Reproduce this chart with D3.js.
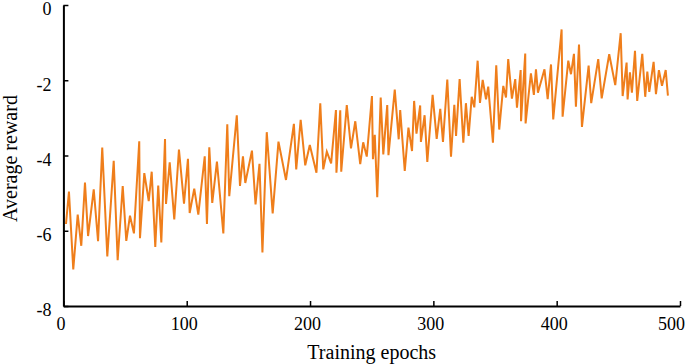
<!DOCTYPE html>
<html>
<head>
<meta charset="utf-8">
<script src="https://cdn.jsdelivr.net/npm/d3@7"></script>
<style>
  body { margin: 0; background: #fff; }
  svg { display: block; }
  text { font-family: "Liberation Serif", "Times New Roman", serif; fill: #000; }
</style>
</head>
<body>
<svg width="685" height="364"></svg>
<script>
'use strict';

// epochs of each vertex of the curve
const epochs = [
  2.1, 4.5, 8.0, 11.6, 14.5, 17.5, 20.0, 24.6, 28.1, 31.5,
  35.6, 40.8, 44.0, 48.1, 51.0, 54.0, 57.2, 61.5, 62.1, 65.6,
  69.2, 71.6, 74.5, 76.9, 79.4, 82.4, 83.2, 86.2, 89.9, 93.7,
  97.8, 101.0, 102.4, 106.1, 109.4, 114.6, 116.4, 118.3, 120.7, 124.5,
  129.7, 132.9, 134.5, 140.6, 143.2, 145.6, 147.5, 152.9, 155.8, 159.0,
  161.4, 164.9, 169.7, 174.4, 180.5, 186.9, 188.8, 192.4, 196.1, 199.8,
  205.2, 208.3, 210.7, 213.6, 217.1, 221.0, 221.4, 224.5, 225.3, 229.8,
  233.2, 236.7, 240.7, 243.1, 246.0, 250.2, 251.0, 252.5, 254.5, 257.3,
  259.4, 262.6, 263.6, 268.7, 271.9, 273.1, 276.8, 279.8, 282.7, 284.4,
  286.3, 289.3, 289.9, 292.9, 295.1, 299.4, 302.7, 305.6, 307.8, 311.3,
  314.3, 317.0, 318.4, 321.3, 324.3, 326.4, 328.6, 331.1, 333.2, 335.9,
  337.8, 340.0, 342.7, 344.5, 348.3, 351.0, 353.4, 356.7, 358.9, 360.7,
  363.7, 366.4, 367.8, 370.8, 371.1, 374.5, 374.8, 379.1, 381.5, 383.2,
  384.8, 390.1, 392.7, 395.4, 397.2, 404.0, 404.8, 409.4, 411.6, 414.0,
  415.6, 418.1, 420.5, 425.9, 428.0, 433.7, 436.5, 442.6, 447.5, 451.9,
  453.5, 456.7, 457.5, 459.4, 461.0, 463.5, 465.3, 469.4, 471.8, 473.5,
  475.1, 478.6, 480.5, 482.9, 485.4, 488.4, 490.2
];

// average reward at each of those epochs
const rewards = [
  -5.82, -4.96, -7.03, -5.57, -6.40, -4.72, -6.14, -4.90, -6.28, -3.79,
  -6.68, -4.14, -6.78, -4.81, -6.27, -5.60, -6.07, -3.62, -6.20, -4.47,
  -5.21, -4.43, -6.43, -4.80, -6.31, -3.56, -5.29, -4.18, -5.70, -3.84,
  -5.28, -4.09, -5.53, -4.88, -5.57, -4.02, -5.82, -3.78, -5.26, -4.16,
  -6.07, -3.17, -5.08, -2.93, -4.81, -4.02, -4.73, -3.87, -5.30, -4.22,
  -6.58, -3.38, -5.54, -3.63, -4.65, -3.16, -4.37, -3.05, -4.26, -3.72,
  -4.46, -2.61, -4.37, -3.90, -4.21, -2.79, -4.46, -2.80, -4.43, -2.66,
  -3.81, -3.09, -4.23, -3.65, -4.03, -2.42, -4.10, -3.45, -5.11, -2.46,
  -3.97, -2.66, -3.99, -2.25, -3.57, -2.79, -4.41, -3.26, -3.88, -2.55,
  -3.42, -2.67, -3.64, -2.93, -4.17, -2.39, -3.56, -2.76, -3.64, -1.98,
  -4.03, -2.65, -3.48, -1.97, -3.66, -2.61, -3.48, -2.44, -2.72, -1.48,
  -2.60, -1.99, -2.51, -2.17, -3.66, -1.60, -3.31, -2.15, -2.46, -1.44,
  -2.49, -1.97, -2.73, -1.73, -3.09, -1.29, -3.15, -1.82, -2.39, -1.71,
  -2.33, -1.71, -2.50, -1.58, -3.04, -0.65, -2.97, -1.48, -1.84, -1.30,
  -2.70, -1.05, -3.24, -1.61, -2.61, -1.44, -2.48, -1.31, -2.13, -0.75,
  -2.42, -1.53, -2.51, -1.79, -2.33, -1.22, -2.55, -1.30, -2.44, -1.77,
  -2.31, -1.51, -2.37, -1.73, -2.15, -1.73, -2.41
];

const xTicks = [0, 100, 200, 300, 400, 500];
const yTicks = [0, -2, -4, -6, -8];

const svg = d3.select("svg");
const mLeft = 63.4, mRight = 680, mTop = 5, mBottom = 306;

const x = d3.scaleLinear().domain([0, 500]).range([mLeft, mRight]);
const y = d3.scaleLinear().domain([-8, 0]).range([mBottom, mTop]);

const points = epochs.map((e, i) => [e, rewards[i]]);

const line = d3.line()
  .x(d => x(d[0]))
  .y(d => y(d[1]));

svg.append("path")
  .datum(points)
  .attr("fill", "none")
  .attr("stroke", "#ef7e1b")
  .attr("stroke-width", 2)
  .attr("stroke-linejoin", "miter")
  .attr("d", line);

// x axis, ticks pointing into the plot
const xAxis = svg.append("g")
  .attr("transform", `translate(0,${mBottom})`)
  .call(d3.axisBottom(x).tickValues(xTicks).tickSizeInner(-5).tickSizeOuter(0).tickPadding(11));

// y axis
const yAxis = svg.append("g")
  .attr("transform", `translate(${mLeft},0)`)
  .call(d3.axisLeft(y).tickValues(yTicks).tickSizeInner(-5).tickSizeOuter(0).tickPadding(12)
    .tickFormat(d => String(d).replace("\u2212", "-")));

[xAxis, yAxis].forEach(g => {
  g.select(".domain").attr("stroke", "#000").attr("stroke-width", 2);
  g.selectAll(".tick line").attr("stroke", "#000").attr("stroke-width", 1.5);
  g.selectAll(".tick text")
    .attr("font-family", "Liberation Serif, Times New Roman, serif")
    .attr("font-size", 18)
    .attr("fill", "#000");
});
// labels sit a little left of their ticks; the last one is pulled in to stay on the page
xAxis.selectAll(".tick text").attr("dx", d => d === 500 ? -9 : -3);
yAxis.selectAll(".tick text").attr("dy", "0.55em");

svg.append("text")
  .attr("x", (mLeft + mRight) / 2)
  .attr("y", 359)
  .attr("text-anchor", "middle")
  .attr("font-size", 20)
  .text("Training epochs");

svg.append("text")
  .attr("transform", `translate(17,${(mTop + mBottom) / 2 + 3}) rotate(-90)`)
  .attr("text-anchor", "middle")
  .attr("font-size", 20)
  .text("Average reward");
</script>
</body>
</html>
